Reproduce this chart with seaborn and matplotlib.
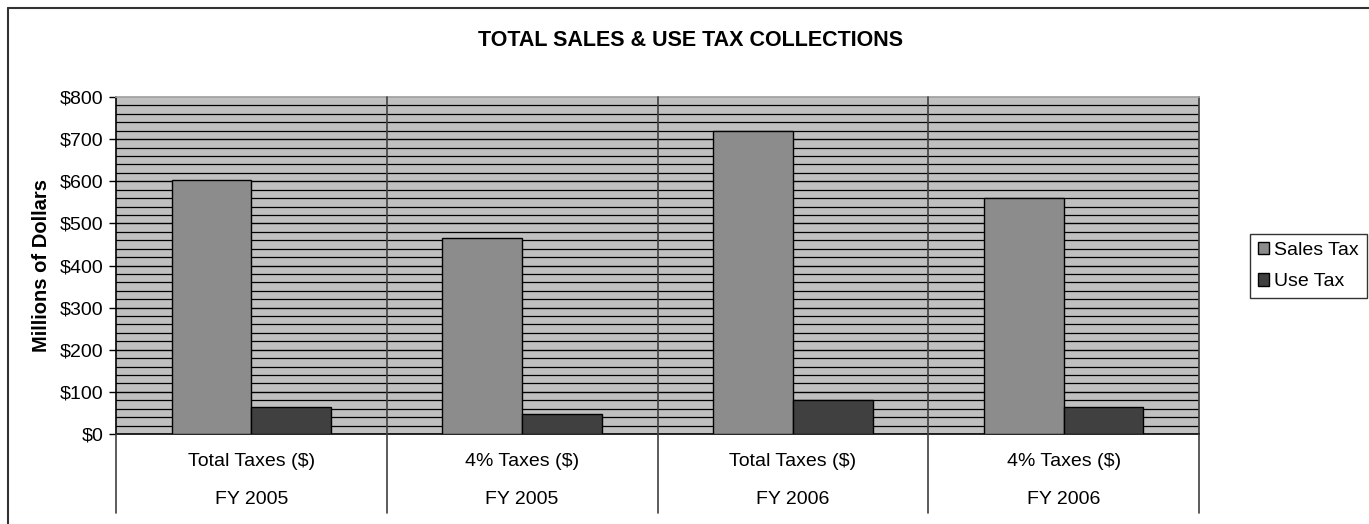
import matplotlib
matplotlib.use('Agg')
import matplotlib.pyplot as plt
import seaborn as sns
import pandas as pd
import numpy as np
from matplotlib.lines import Line2D
import matplotlib.transforms as mtransforms

# データ
tax_types = ['Total Taxes ($)', '4% Taxes ($)', 'Total Taxes ($)', '4% Taxes ($)']
fiscal_years = ['FY 2005', 'FY 2005', 'FY 2006', 'FY 2006']
sales_tax = [603, 466, 719, 560]
use_tax = [64, 47, 81, 64]
series_names = ['Sales Tax', 'Use Tax']
y_ticks = [0, 100, 200, 300, 400, 500, 600, 700, 800]

sns.set_theme(style='white')
plt.rcParams['font.family'] = ['Liberation Sans', 'DejaVu Sans']
plt.rcParams['text.color'] = 'black'
plt.rcParams['axes.labelcolor'] = 'black'
plt.rcParams['ytick.color'] = 'black'

keys = [f'{t}|{fy}' for t, fy in zip(tax_types, fiscal_years)]
df = pd.DataFrame({
    'key': keys * 2,
    'value': sales_tax + use_tax,
    'series': [series_names[0]] * 4 + [series_names[1]] * 4,
})

fig = plt.figure(figsize=(13.69, 5.24), dpi=100)
ax = fig.add_axes([116 / 1369, 1 - 434 / 524, (1199 - 116) / 1369, 337 / 524])
ax.set_facecolor('#C0C0C0')

sns.barplot(data=df, x='key', y='value', hue='series', order=keys,
            palette=['#8C8C8C', '#404040'], width=0.59, edgecolor='black',
            linewidth=1, saturation=1, ax=ax, zorder=3)

# 横罫線（$20 ごと）
for v in np.arange(20, 800, 20):
    ax.axhline(v, color='black', lw=1.0 if v % 100 == 0 else 0.9, zorder=1)

ax.set_xlim(-0.5, 3.5)
ax.set_ylim(0, 800)
ax.set_yticks(y_ticks)
ax.set_yticklabels([f'${v}' for v in y_ticks], fontsize=14)
ax.tick_params(axis='y', left=True, length=5, width=1, color='black', pad=4)
ax.set_xticks([])
ax.set_xlabel('')
ax.set_ylabel('Millions of Dollars', fontsize=14.5, fontweight='bold', labelpad=6)

for s in ['left', 'bottom']:
    ax.spines[s].set_color('black')
    ax.spines[s].set_linewidth(1.2)
ax.spines['top'].set_color('#A0A0A0')
ax.spines['right'].set_color('#404040')

# カテゴリ区切り線とラベル
trans = mtransforms.blended_transform_factory(ax.transData, ax.transAxes)
for b in [0.5, 1.5, 2.5]:
    ax.plot([b, b], [-0.234, 1], transform=trans, color='#404040', lw=1.2,
            clip_on=False, zorder=4)
for b in [-0.5, 3.5]:
    ax.plot([b, b], [-0.234, 0], transform=trans, color='#404040', lw=1.2,
            clip_on=False, zorder=4)
for i, (t, fy) in enumerate(zip(tax_types, fiscal_years)):
    ax.text(i, -0.083, t, transform=trans, ha='center', va='center', fontsize=14)
    ax.text(i, -0.193, fy, transform=trans, ha='center', va='center', fontsize=14)

# 凡例
handles, labels = ax.get_legend_handles_labels()
leg = ax.legend(handles, labels, loc='center left', bbox_to_anchor=(1250 / 1369, 1 - 266 / 524),
                bbox_transform=fig.transFigure, fontsize=14, frameon=True, fancybox=False,
                handlelength=0.6, handleheight=0.6, handletextpad=0.25,
                borderpad=0.4, labelspacing=0.75, borderaxespad=0)
leg.get_frame().set_edgecolor('black')
leg.get_frame().set_linewidth(1)

fig.text(690 / 1369, 1 - 40 / 524, 'TOTAL SALES & USE TAX COLLECTIONS',
         ha='center', va='center', fontsize=15.5, fontweight='bold')

# 外枠
fig.add_artist(Line2D([8 / 1369, 8 / 1369], [0, 1 - 8 / 524], transform=fig.transFigure,
                      color='#333333', lw=1.5))
fig.add_artist(Line2D([8 / 1369, 1], [1 - 8 / 524, 1 - 8 / 524], transform=fig.transFigure,
                      color='#333333', lw=1.5))

fig.savefig('out.png', dpi=100)
